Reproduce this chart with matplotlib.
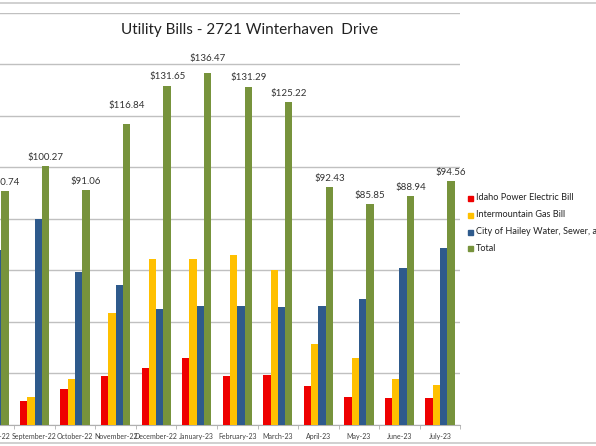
import matplotlib
matplotlib.use("Agg")
import matplotlib.pyplot as plt
import numpy as np

plt.rcParams['font.family'] = ['Lato', 'DejaVu Sans']

months = ["August-22", "September-22", "October-22", "November-22", "December-22",
          "January-23", "February-23", "March-23", "April-23", "May-23", "June-23", "July-23"]
electric = [11.0, 9.3, 13.8, 19.0, 22.2, 25.8, 19.1, 19.3, 15.1, 10.9, 10.3, 10.3]
gas = [12.0, 10.9, 17.9, 43.6, 64.5, 64.5, 66.1, 60.0, 31.3, 26.0, 17.9, 15.7]
water = [67.74, 80.07, 59.36, 54.24, 44.95, 46.17, 46.09, 45.92, 46.03, 48.95, 60.74, 68.56]
total = [90.74, 100.27, 91.06, 116.84, 131.65, 136.47, 131.29, 125.22, 92.43, 85.85, 88.94, 94.56]
series_names = ["Idaho Power Electric Bill", "Intermountain Gas Bill",
                "City of Hailey Water, Sewer, and Trash", "Total"]
yticks = [0, 20, 40, 60, 80, 100, 120, 140, 160]

colors = ["#ee0000", "#ffc000", "#2e5a8c", "#77933c"]
# extra vertical offset (points) for individually moved labels
label_extra = [0, 0, 0, 7, 0, 4, 0, 0, 0, 0, 0, 0]

W, H = 596, 446
fig = plt.figure(figsize=(W / 100, H / 100), dpi=100)
fig.patch.set_facecolor("white")

left_px, right_px, top_px, bot_px = -26.3, 460.3, 12.5, 425.0
ax = fig.add_axes([left_px / W, (H - bot_px) / H, (right_px - left_px) / W, (bot_px - top_px) / H])

x = np.arange(len(months))
bw = 0.18
all_series = [electric, gas, water, total]
for i, (vals, c, name) in enumerate(zip(all_series, colors, series_names)):
    ax.bar(x + (i - 1.5) * bw, vals, width=bw, color=c, label=name, zorder=3)

for xi, t, ex in zip(x, total, label_extra):
    ax.annotate(f"${t:.2f}", (xi + 1.5 * bw, t), xytext=(0, 3 + ex), textcoords="offset points",
                ha="center", va="bottom", fontsize=7.0, color="#333333")

ax.set_xlim(-0.5, len(months) - 0.5)
ax.set_ylim(0, 160)
ax.set_yticks(yticks)
ax.set_yticklabels([])
ax.tick_params(axis="y", length=0)
ax.yaxis.grid(True, color="#c0c0c0", linewidth=1.0, zorder=0)
ax.set_axisbelow(True)
for s in ["left", "right", "top"]:
    ax.spines[s].set_visible(False)
ax.spines["bottom"].set_color("#b0b0b0")
ax.set_xticks(x)
ax.set_xticklabels(months, fontsize=5.0, color="#404040")
ax.tick_params(axis="x", length=0, pad=6)
ax.set_xticks(np.arange(-0.5, len(months), 1.0), minor=True)
ax.tick_params(axis="x", which="minor", length=3, color="#b0b0b0", direction="out")

fig.text(249.5 / W, 1 - 30 / H, "Utility Bills - 2721 Winterhaven  Drive",
         ha="center", va="center", fontsize=11.0, color="#222222")

leg_y = [198, 215, 232, 248]
for name, c, yy in zip(series_names, colors, leg_y):
    fig.patches.append(plt.Rectangle((468 / W, 1 - (yy + 2.5) / H), 5 / W, 5 / H,
                                     transform=fig.transFigure, color=c, figure=fig))
    fig.text(476 / W, 1 - yy / H, name, ha="left", va="center", fontsize=6.6, color="#222222")

# spreadsheet lines around the chart
fig.add_artist(plt.Line2D([0, 1], [1 - 3 / H, 1 - 3 / H], color="#c8c8c8", linewidth=1.2))
fig.add_artist(plt.Line2D([0, 1], [1 - 443 / H, 1 - 443 / H], color="#c8c8c8", linewidth=1.2))

fig.savefig("out.png", dpi=100, facecolor="white")
